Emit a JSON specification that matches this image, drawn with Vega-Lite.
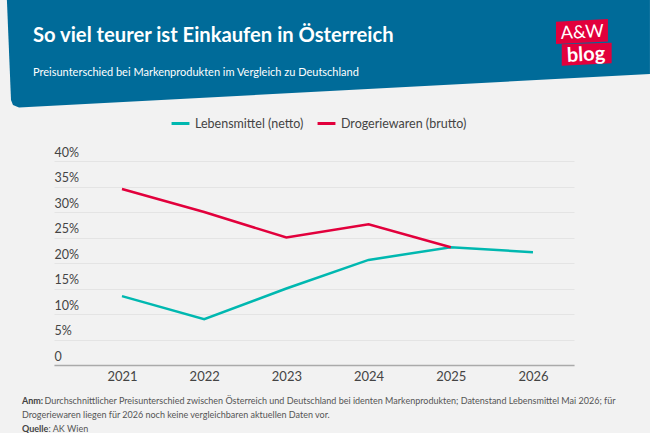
{
  "$schema": "https://vega.github.io/schema/vega-lite/v6.json",
  "description": "So viel teurer ist Einkaufen in Österreich",
  "width": 520,
  "height": 204,
  "autosize": "none",
  "padding": {"left": 54, "top": 161, "right": 76, "bottom": 68},
  "background": "#f2f2f2",
  "data": {"values": [{}]},
  "title": {
    "text": "So viel teurer ist Einkaufen in Österreich",
    "subtitle": "Preisunterschied bei Markenprodukten im Vergleich zu Deutschland",
    "anchor": "start",
    "frame": "group",
    "dx": -21,
    "offset": -78,
    "font": "Lato",
    "fontWeight": "bold",
    "fontSize": 20.2,
    "color": "#ffffff",
    "subtitleFont": "Lato",
    "subtitleFontSize": 11,
    "subtitleColor": "#ffffff",
    "subtitlePadding": 21
  },
  "config": {
    "view": {"stroke": null},
    "text": {"font": "Lato", "align": "left", "baseline": "middle"}
  },
  "layer": [
    {
      "data": {"values": [
        {"bx": 2019.6, "top": 71.6, "bottom": 71.6},
        {"bx": 2019.65, "top": 71.6, "bottom": 51.96},
        {"bx": 2019.674, "top": 71.6, "bottom": 50.98},
        {"bx": 2019.747, "top": 71.6, "bottom": 50.49},
        {"bx": 2027.423, "top": 71.6, "bottom": 57.06}
      ]},
      "mark": {"type": "area", "color": "#006b99"},
      "encoding": {
        "x": {"field": "bx", "type": "quantitative", "title": null},
        "y": {"field": "top", "type": "quantitative", "title": null},
        "y2": {"field": "bottom"}
      }
    },
    {
      "data": {"values": [
        {"bx": 2026.28, "top": 67.3, "bottom": 62.94},
        {"bx": 2026.912, "top": 67.84, "bottom": 63.43}
      ]},
      "mark": {"type": "area", "color": "#e2003c"},
      "encoding": {
        "x": {"field": "bx", "type": "quantitative", "title": null},
        "y": {"field": "top", "type": "quantitative", "title": null},
        "y2": {"field": "bottom"}
      }
    },
    {
      "data": {"values": [
        {"bx": 2026.35, "top": 62.88, "bottom": 58.69},
        {"bx": 2026.957, "top": 63.2, "bottom": 59.16}
      ]},
      "mark": {"type": "area", "color": "#e2003c"},
      "encoding": {
        "x": {"field": "bx", "type": "quantitative", "title": null},
        "y": {"field": "top", "type": "quantitative", "title": null},
        "y2": {"field": "bottom"}
      }
    },
    {
      "data": {"values": [
        {"year": 2021, "series": "Lebensmittel (netto)", "pct": 13.5},
        {"year": 2022, "series": "Lebensmittel (netto)", "pct": 9},
        {"year": 2023, "series": "Lebensmittel (netto)", "pct": 15},
        {"year": 2024, "series": "Lebensmittel (netto)", "pct": 20.6},
        {"year": 2025, "series": "Lebensmittel (netto)", "pct": 23.1},
        {"year": 2026, "series": "Lebensmittel (netto)", "pct": 22.1},
        {"year": 2021, "series": "Drogeriewaren (brutto)", "pct": 34.5},
        {"year": 2022, "series": "Drogeriewaren (brutto)", "pct": 30},
        {"year": 2023, "series": "Drogeriewaren (brutto)", "pct": 25},
        {"year": 2024, "series": "Drogeriewaren (brutto)", "pct": 27.6},
        {"year": 2025, "series": "Drogeriewaren (brutto)", "pct": 23.1}
      ]},
      "mark": {"type": "line", "strokeWidth": 2.5},
      "encoding": {
        "x": {
          "field": "year",
          "type": "quantitative",
          "title": null,
          "scale": {"domain": [2020.173, 2026.499], "nice": false, "zero": false},
          "axis": {
            "values": [2021, 2022, 2023, 2024, 2025, 2026],
            "format": "d",
            "grid": false,
            "ticks": false,
            "domainColor": "#aaaaaa",
            "domainWidth": 1.5,
            "labelFont": "Lato",
            "labelFontSize": 13,
            "labelColor": "#444444",
            "labelPadding": 5
          }
        },
        "y": {
          "field": "pct",
          "type": "quantitative",
          "title": null,
          "scale": {"domain": [0, 40], "nice": false},
          "axis": {
            "tickCount": 8,
            "labelExpr": "datum.value === 0 ? '0' : datum.value + '%'",
            "labelOverlap": false,
            "domain": false,
            "ticks": false,
            "gridColor": "#e4e4e4",
            "labelFont": "Lato",
            "labelFontSize": 12.5,
            "labelColor": "#444444",
            "labelAlign": "left",
            "labelBaseline": "bottom",
            "labelPadding": 0,
            "labelOffset": -2
          }
        },
        "color": {
          "field": "series",
          "type": "nominal",
          "scale": {
            "domain": ["Lebensmittel (netto)", "Drogeriewaren (brutto)"],
            "range": ["#00b8b0", "#e2003c"]
          },
          "legend": {
            "title": null,
            "orient": "none",
            "direction": "horizontal",
            "legendX": 116,
            "legendY": -48,
            "symbolType": "stroke",
            "symbolSize": 320,
            "symbolStrokeWidth": 3,
            "labelFont": "Lato",
            "labelFontSize": 12.5,
            "labelColor": "#444444",
            "columnPadding": 7
          }
        }
      }
    },
    {
      "mark": {"type": "text", "font": "Lato", "fontSize": 18, "color": "#ffffff", "angle": 357, "align": "center"},
      "encoding": {
        "x": {"datum": 2026.6, "type": "quantitative", "title": null},
        "y": {"datum": 65.1, "type": "quantitative", "title": null},
        "text": {"value": "A&W"}
      }
    },
    {
      "mark": {"type": "text", "font": "Lato", "fontWeight": "bold", "fontSize": 20, "color": "#ffffff", "angle": 357, "align": "center"},
      "encoding": {
        "x": {"datum": 2026.645, "type": "quantitative", "title": null},
        "y": {"datum": 60.8, "type": "quantitative", "title": null},
        "text": {"value": "blog"}
      }
    },
    {
      "mark": {"type": "text", "fontSize": 9, "fontWeight": "bold", "color": "#444444"},
      "encoding": {
        "x": {"datum": 2019.783, "type": "quantitative", "title": null},
        "y": {"datum": -7.06, "type": "quantitative", "title": null},
        "text": {"value": "Anm:"}
      }
    },
    {
      "mark": {"type": "text", "fontSize": 9, "color": "#555555"},
      "encoding": {
        "x": {"datum": 2020.057, "type": "quantitative", "title": null},
        "y": {"datum": -7.06, "type": "quantitative", "title": null},
        "text": {"value": "Durchschnittlicher Preisunterschied zwischen Österreich und Deutschland bei identen Markenprodukten; Datenstand Lebensmittel Mai 2026; für"}
      }
    },
    {
      "mark": {"type": "text", "fontSize": 9, "color": "#555555"},
      "encoding": {
        "x": {"datum": 2019.783, "type": "quantitative", "title": null},
        "y": {"datum": -9.8, "type": "quantitative", "title": null},
        "text": {"value": "Drogeriewaren liegen für 2026 noch keine vergleichbaren aktuellen Daten vor."}
      }
    },
    {
      "mark": {"type": "text", "fontSize": 9, "fontWeight": "bold", "color": "#444444"},
      "encoding": {
        "x": {"datum": 2019.783, "type": "quantitative", "title": null},
        "y": {"datum": -12.55, "type": "quantitative", "title": null},
        "text": {"value": "Quelle"}
      }
    },
    {
      "mark": {"type": "text", "fontSize": 9, "color": "#555555"},
      "encoding": {
        "x": {"datum": 2020.106, "type": "quantitative", "title": null},
        "y": {"datum": -12.55, "type": "quantitative", "title": null},
        "text": {"value": ": AK Wien"}
      }
    }
  ]
}
